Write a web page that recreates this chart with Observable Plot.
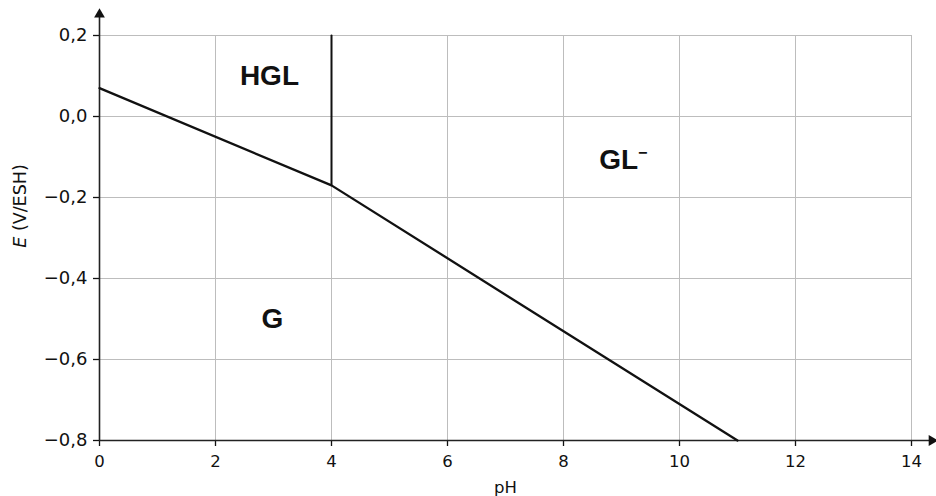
<!DOCTYPE html>
<html>
<head>
<meta charset="utf-8">
<script src="https://cdn.jsdelivr.net/npm/d3@7"></script>
<script src="https://cdn.jsdelivr.net/npm/@observablehq/plot@0.6"></script>
<style>
  html, body { margin: 0; padding: 0; background: #fff; }
</style>
</head>
<body>
<div id="chart"></div>
<script>
// Boundary line E = f(pH)
const boundaryPH = [0, 4, 11];
const boundaryE = [0.07, -0.17, -0.80];
// Vertical boundary HGL / GL-
const verticalPH = [4, 4];
const verticalE = [-0.17, 0.2];
// Domain labels
const domainNames = ["HGL", "GL⁻", "G"];
const domainPH = [2.93, 9.03, 2.98];
const domainE = [0.10, -0.108, -0.50];
// Ticks
const xTicks = [0, 2, 4, 6, 8, 10, 12, 14];
const yTicks = [-0.8, -0.6, -0.4, -0.2, 0.0, 0.2];
// Axis extents (arrow ends)
const xAxisEnd = 14.35;
const yAxisEnd = 0.252;
const xLabel = "pH";
const yLabel = "E (V/ESH)";

const lineData = boundaryPH.map((p, i) => ({pH: p, E: boundaryE[i]}));
const vertData = verticalPH.map((p, i) => ({pH: p, E: verticalE[i]}));
const labelData = domainNames.map((t, i) => ({t, pH: domainPH[i], E: domainE[i]}));

const fmt = d => d3.format(".1f")(d).replace(".", ",");

const plot = Plot.plot({
  width: 936,
  height: 496,
  marginLeft: 99,
  marginRight: 25,
  marginTop: 35,
  marginBottom: 56,
  style: {fontFamily: "'DejaVu Sans', sans-serif", fontSize: "17px", background: "#fff", color: "#111"},
  x: {domain: [0, 14]},
  y: {domain: [-0.8, 0.2]},
  marks: [
    Plot.gridX(xTicks, {stroke: "#bdbdbd", strokeOpacity: 1, strokeWidth: 1}),
    Plot.gridY(yTicks, {stroke: "#bdbdbd", strokeOpacity: 1, strokeWidth: 1}),
    Plot.axisX(xTicks, {tickFormat: d => String(d), tickSize: 6, tickPadding: 9, fontSize: 16.5, label: null, strokeWidth: 1.3}),
    Plot.axisY(yTicks, {tickFormat: fmt, tickSize: 6, tickPadding: 6, fontSize: 18, label: null, strokeWidth: 1.3}),
    Plot.ruleY([-0.8], {x1: 0, x2: xAxisEnd, stroke: "#222", strokeWidth: 1.6}),
    Plot.ruleX([0], {y1: -0.8, y2: yAxisEnd, stroke: "#222", strokeWidth: 1.6}),
    Plot.dot([{x: xAxisEnd, y: -0.8}], {x: "x", y: "y", symbol: "triangle", r: 4, fill: "#111", stroke: null, rotate: 90}),
    Plot.dot([{x: 0, y: yAxisEnd}], {x: "x", y: "y", symbol: "triangle", r: 4, fill: "#111", stroke: null}),
    Plot.line(lineData, {x: "pH", y: "E", stroke: "#111", strokeWidth: 2.3}),
    Plot.line(vertData, {x: "pH", y: "E", stroke: "#111", strokeWidth: 2}),
    Plot.text(labelData, {x: "pH", y: "E", text: "t", fontFamily: "'Liberation Sans', Arial, sans-serif", fontWeight: "bold", fontSize: 28, fill: "#111"}),
    Plot.text([xLabel], {frameAnchor: "bottom", text: d => d, lineAnchor: "middle", textAnchor: "middle", dy: 47, fontSize: 16.5, fill: "#111"}),
    Plot.text([yLabel], {frameAnchor: "left", text: d => d, textAnchor: "middle", lineAnchor: "middle", rotate: -90, dx: -79, dy: -32, fontSize: 17.5, fill: "#111"})
  ]
});

// italic E in the y label, superscript minus for GL-
plot.querySelectorAll("text").forEach(t => {
  if (t.textContent === yLabel) {
    t.textContent = "";
    const a = document.createElementNS("http://www.w3.org/2000/svg", "tspan");
    a.setAttribute("font-style", "italic");
    a.textContent = "E";
    const b = document.createElementNS("http://www.w3.org/2000/svg", "tspan");
    b.textContent = " (V/ESH)";
    t.appendChild(a); t.appendChild(b);
  } else if (t.textContent === "GL⁻") {
    t.textContent = "";
    const a = document.createElementNS("http://www.w3.org/2000/svg", "tspan");
    a.textContent = "GL";
    const b = document.createElementNS("http://www.w3.org/2000/svg", "tspan");
    b.textContent = "−";
    b.setAttribute("font-size", "16");
    b.setAttribute("dy", "-11");
    t.appendChild(a); t.appendChild(b);
  }
});

document.getElementById("chart").appendChild(plot);
</script>
</body>
</html>
